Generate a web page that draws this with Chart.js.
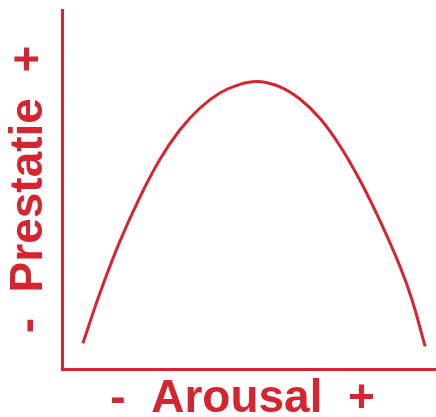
<!DOCTYPE html>
<html>
<head>
<meta charset="utf-8">
<script src="https://cdn.jsdelivr.net/npm/chart.js@4"></script>
<style>
  html, body { margin: 0; padding: 0; background: #fff; }
  #wrap { width: 436px; height: 417px; position: relative; }
</style>
</head>
<body>
<div id="wrap"><canvas id="curveChart"></canvas></div>
<script>
  // inverted-U: performance against arousal (both on a 0-100 scale)
  const arousal = [5.6, 10.2, 15.5, 20.9, 26.2, 31.6, 36.9, 42.2, 47.6, 52.4, 58.3, 63.6, 69.0, 74.3, 79.7, 85.0, 90.4, 93.6, 97.1];
  const prestatie = [7.2, 21.3, 35.6, 48.0, 58.4, 66.7, 72.7, 76.9, 79.3, 80.1, 78.6, 75.2, 69.8, 62.2, 52.5, 41.3, 28.5, 19.2, 6.3];
  const xTitle = '-  Arousal  + ';
  const yTitle = '-  Prestatie  +';

  const red = '#d42530';
  const titleFont = { family: "'Liberation Sans', Arial, sans-serif", size: 46, weight: 'bold', lineHeight: 1 };

  const points = arousal.map((x, i) => ({ x: x, y: prestatie[i] }));

  new Chart(document.getElementById('curveChart').getContext('2d'), {
    type: 'line',
    data: {
      datasets: [{
        data: points,
        borderColor: red,
        borderWidth: 3,
        pointRadius: 0,
        fill: false,
        tension: 0.4
      }]
    },
    options: {
      responsive: true,
      maintainAspectRatio: false,
      animation: false,
      layout: { padding: { top: 10, right: 0, bottom: 0, left: 0 } },
      plugins: {
        legend: { display: false },
        tooltip: { enabled: false }
      },
      scales: {
        x: {
          type: 'linear',
          min: 0,
          max: 100,
          grid: { display: false, drawTicks: false },
          border: { display: true, color: red, width: 3 },
          ticks: { display: false },
          title: {
            display: true,
            text: xTitle,
            color: red,
            font: titleFont,
            padding: { top: 7, bottom: -5 }
          }
        },
        y: {
          type: 'linear',
          min: 0,
          max: 100,
          grid: { display: false, drawTicks: false },
          border: { display: true, color: red, width: 3 },
          ticks: { display: false },
          title: {
            display: true,
            text: yTitle,
            color: red,
            font: titleFont,
            padding: { top: 6, bottom: 10 }
          }
        }
      }
    }
  });
</script>
</body>
</html>
